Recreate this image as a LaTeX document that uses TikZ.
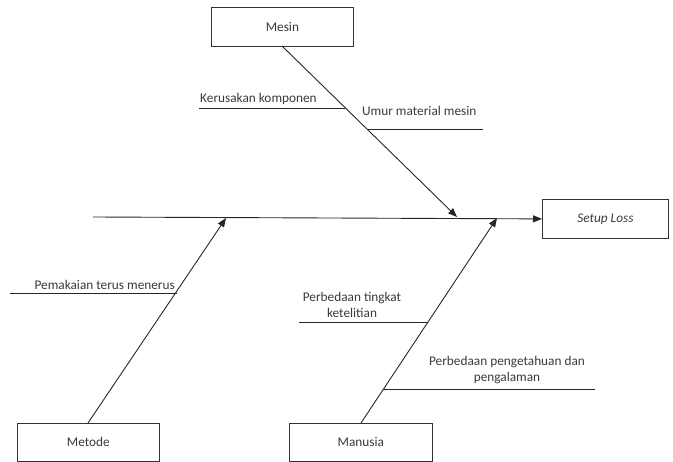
\documentclass[tikz,border=0pt]{standalone}
\usepackage{fontspec}
\setmainfont{Carlito}
\usetikzlibrary{arrows.meta}
\definecolor{txt}{HTML}{3A3A3A}
\begin{document}
\begin{tikzpicture}[x=1pt,y=-1pt,
  box/.style={draw=black!80,line width=0.8pt,inner sep=0pt,anchor=north west,font=\fontsize{13.3}{15}\selectfont,text=txt},
  bone/.style={draw=black!85,line width=0.9pt},
  arr/.style={bone,-{Triangle[length=9pt,width=7pt]}},
  lbl/.style={font=\fontsize{13.3}{15.5}\selectfont,text=txt,inner sep=0pt,align=center}]
\useasboundingbox (0,0) rectangle (673,462);
% boxes
\node[box,minimum width=142pt,minimum height=39pt] (mesin) at (211,7) {Mesin};
\node[box,minimum width=126pt,minimum height=39pt] (effect) at (542,199) {\itshape Setup Loss};
\node[box,minimum width=142pt,minimum height=38pt] (metode) at (17,423) {Metode};
\node[box,minimum width=143pt,minimum height=38pt] (manusia) at (289,423) {Manusia};
% spine
\coordinate (spineL) at (93,217);
\draw[arr] (spineL) -- (effect.west);
% tips on spine
\coordinate (tipM) at (457,217);
\coordinate (tipMe) at (226,218);
\coordinate (tipMa) at (497,218);
\coordinate (mesinB) at (282,46);
\coordinate (metodeB) at (88,423);
\coordinate (manusiaB) at (361,423);
\draw[arr] (mesinB) -- (tipM);
\draw[arr] (metodeB) -- (tipMe);
\draw[arr] (manusiaB) -- (tipMa);
% sub-causes
\coordinate (k1) at (199,108); \coordinate (k2) at (345,108);
\draw[bone] (k1) -- (k2);
\node[lbl,anchor=south west] (kerusakan) at (200,105) {Kerusakan komponen};
\coordinate (u1) at (367,129); \coordinate (u2) at (483,129);
\draw[bone] (u1) -- (u2);
\node[lbl,anchor=west] (umur) at (362,111) {Umur material mesin};
\coordinate (p1) at (10,293); \coordinate (p2) at (177,293);
\draw[bone] (p1) -- (p2);
\node[lbl,anchor=south east] (pemakaian) at (175,290) {Pemakaian terus menerus};
\coordinate (t1) at (299,322); \coordinate (t2) at (428,322);
\draw[bone] (t1) -- (t2);
\node[lbl] (tingkat) at (352,305) {Perbedaan tingkat\\ketelitian};
\coordinate (g1) at (384,389); \coordinate (g2) at (595,389);
\draw[bone] (g1) -- (g2);
\node[lbl] (pengetahuan) at (507,370) {Perbedaan pengetahuan dan\\pengalaman};
\end{tikzpicture}
\end{document}
